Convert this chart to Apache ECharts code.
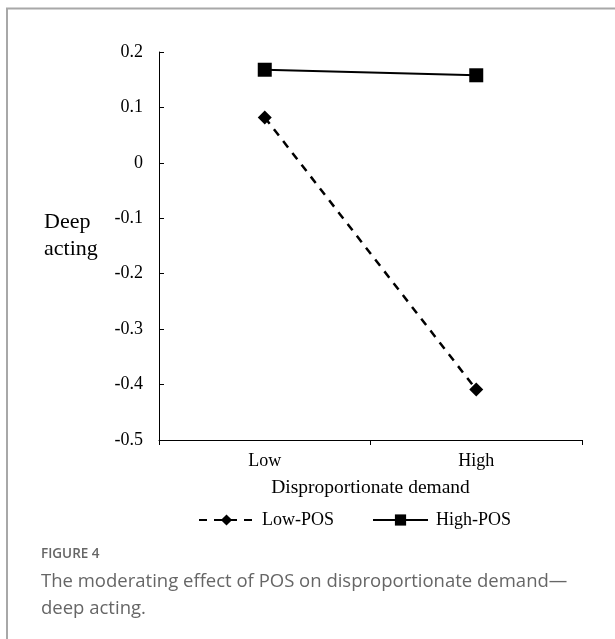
<!DOCTYPE html>
<html>
<head>
<meta charset="utf-8">
<script src="https://cdn.jsdelivr.net/npm/echarts@6/dist/echarts.min.js"></script>
<style>html,body{margin:0;padding:0;background:#fff}#c{width:615px;height:639px}</style>
</head>
<body>
<div id="c"></div>
<script>
var categories = ['Low', 'High'];
var lowPOS = [0.082, -0.409];
var highPOS = [0.168, 0.158];
var yTicks = [-0.5, -0.4, -0.3, -0.2, -0.1, 0, 0.1, 0.2];
var seriesNames = ['Low-POS', 'High-POS'];
var xAxisTitle = 'Disproportionate demand';
var yAxisTitle = 'Deep\nacting';
var figLabel = 'FIGURE 4';
var captionLines = ['The moderating effect of POS on disproportionate demand\u2014', 'deep acting.'];

var serif = '"Liberation Serif", "Times New Roman", serif';
var sans = '"Open Sans", "Noto Sans", sans-serif';
var chart = echarts.init(document.getElementById('c'), null, {renderer: 'canvas'});
chart.setOption({
  animation: false,
  grid: {left: 159, right: 33, top: 52, bottom: 199},
  legend: {
    data: seriesNames,
    left: 193, top: 506,
    itemWidth: 55, itemHeight: 14, itemGap: 38,
    textStyle: {fontFamily: serif, fontSize: 18, color: '#000', padding: [0, 0, 0, 3]}
  },
  xAxis: {
    type: 'category', data: categories, boundaryGap: true,
    axisLine: {onZero: false, lineStyle: {color: '#000', width: 1}},
    axisTick: {show: true, length: 5, inside: false, lineStyle: {color: '#000'}},
    axisLabel: {fontFamily: serif, fontSize: 18, color: '#000', margin: 12},
    name: xAxisTitle, nameLocation: 'middle', nameGap: 38,
    nameTextStyle: {fontFamily: serif, fontSize: 19.5, color: '#000'}
  },
  yAxis: {
    type: 'value', min: -0.5, max: 0.2, interval: 0.1,
    axisLine: {show: true, lineStyle: {color: '#000', width: 1}},
    axisTick: {show: true, length: 5, inside: true, lineStyle: {color: '#000'}},
    splitLine: {show: false},
    axisLabel: {fontFamily: serif, fontSize: 18, color: '#000', margin: 16,
      formatter: function (v) { var r = Math.round(v * 10) / 10; return yTicks.indexOf(r) >= 0 ? String(r) : ''; }}
  },
  series: [
    {name: seriesNames[0], type: 'line', data: lowPOS, symbol: 'diamond', symbolSize: 14,
     itemStyle: {color: '#000'}, lineStyle: {color: '#000', width: 2.5, type: [8, 7]}},
    {name: seriesNames[1], type: 'line', data: highPOS, symbol: 'rect', symbolSize: 14,
     itemStyle: {color: '#000'}, lineStyle: {color: '#000', width: 2}}
  ],
  graphic: [
    {type: 'polyline', shape: {points: [[7, 639], [7, 8.5], [615, 8.5]]}, style: {stroke: '#a8a8a8', lineWidth: 2, fill: null}},
    {type: 'text', left: 44, top: 209, style: {text: yAxisTitle, font: '22px ' + serif, fill: '#000', lineHeight: 27}},
    {type: 'text', left: 41, top: 547, style: {text: figLabel, font: '600 13.5px ' + sans, fill: '#666'}},
    {type: 'text', left: 41, top: 568, style: {text: captionLines.join('\n'), font: '18.5px ' + sans, fill: '#666', lineHeight: 27}}
  ]
});
</script>
</body>
</html>
